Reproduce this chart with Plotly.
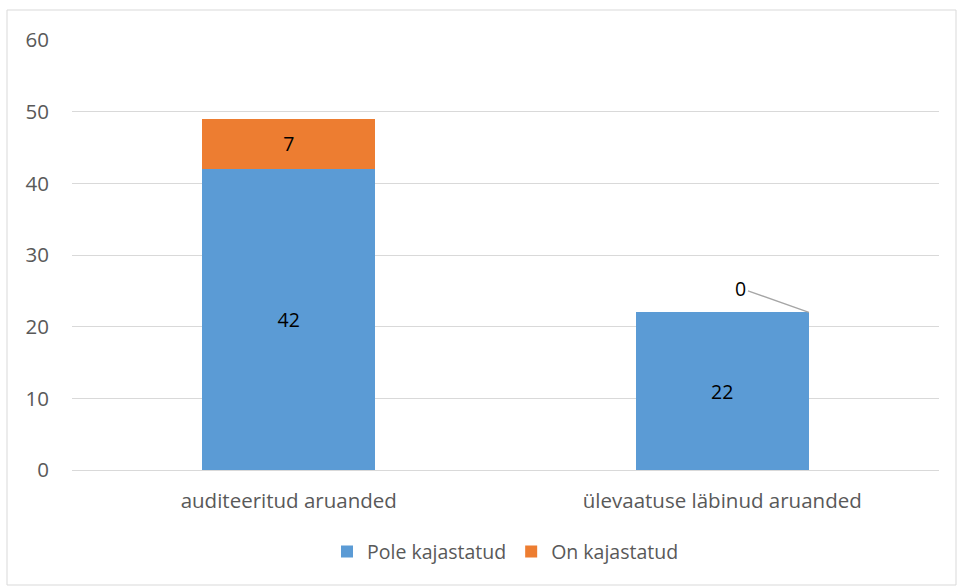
import plotly.graph_objects as go

categories = ["auditeeritud aruanded", "ülevaatuse läbinud aruanded"]
pole_kajastatud = [42, 22]
on_kajastatud = [7, 0]
series_names = ["Pole kajastatud", "On kajastatud"]
colors = ["#5B9BD5", "#ED7D31"]

FONT = "Open Sans, Lato, sans-serif"
FS = 20.5
BAR_W = 0.4

fig = go.Figure()
fig.add_trace(go.Bar(
    x=categories, y=pole_kajastatud, name=series_names[0],
    marker=dict(color=colors[0], line=dict(width=0)), width=BAR_W,
    text=[str(v) for v in pole_kajastatud], textposition="inside",
    insidetextanchor="middle",
    textfont=dict(family=FONT, size=FS - 1, color="#000000"),
))
on_text = [str(v) if v > 0 else "" for v in on_kajastatud]
fig.add_trace(go.Bar(
    x=categories, y=on_kajastatud, name=series_names[1],
    marker=dict(color=colors[1], line=dict(width=0)), width=BAR_W,
    text=on_text, textposition="inside", insidetextanchor="middle",
    textfont=dict(family=FONT, size=FS - 1, color="#000000"),
))

# zero-value label with leader line
for i, v in enumerate(on_kajastatud):
    if v == 0:
        fig.add_annotation(
            x=i + BAR_W / 2, y=pole_kajastatud[i] + v, xref="x", yref="y",
            text=str(v), showarrow=True, arrowhead=0, arrowwidth=1.3,
            arrowcolor="#A6A6A6", ax=-68, ay=-24, standoff=0,
            font=dict(family=FONT, size=FS - 1, color="#000000"),
        )

L, R, T, B = 72, 18, 40, 116
W, H = 957, 586
pw = W - L - R
ph = H - T - B

fig.update_layout(
    barmode="stack",
    width=W, height=H,
    paper_bgcolor="white", plot_bgcolor="white",
    margin=dict(l=L, r=R, t=T, b=B),
    font=dict(family=FONT, size=FS, color="#595959"),
    showlegend=True,
    legend=dict(orientation="h", x=0.5, xanchor="center", y=-0.145, yanchor="top",
                font=dict(family=FONT, size=FS - 1, color="#595959"),
                traceorder="normal"),
    xaxis=dict(showgrid=False, showline=True, linecolor="#D9D9D9", linewidth=1,
               ticks="", ticklabelstandoff=12,
               tickfont=dict(family=FONT, size=FS, color="#595959")),
    yaxis=dict(range=[0, 60], dtick=10, showgrid=True, gridcolor="#D9D9D9",
               gridwidth=1, zeroline=False, showline=False, ticks="",
               ticklabelstandoff=22,
               tickfont=dict(family=FONT, size=FS, color="#595959")),
    shapes=[dict(type="rect", xref="paper", yref="paper",
                 x0=(7 - L) / pw, x1=(956 - L) / pw,
                 y0=(H - B - 585) / ph, y1=(H - B - 10) / ph,
                 layer="below", line=dict(color="#D9D9D9", width=1))],
)
fig.write_html("out.html", config={"displayModeBar": False},
               post_script="document.body.style.margin='0px';")
